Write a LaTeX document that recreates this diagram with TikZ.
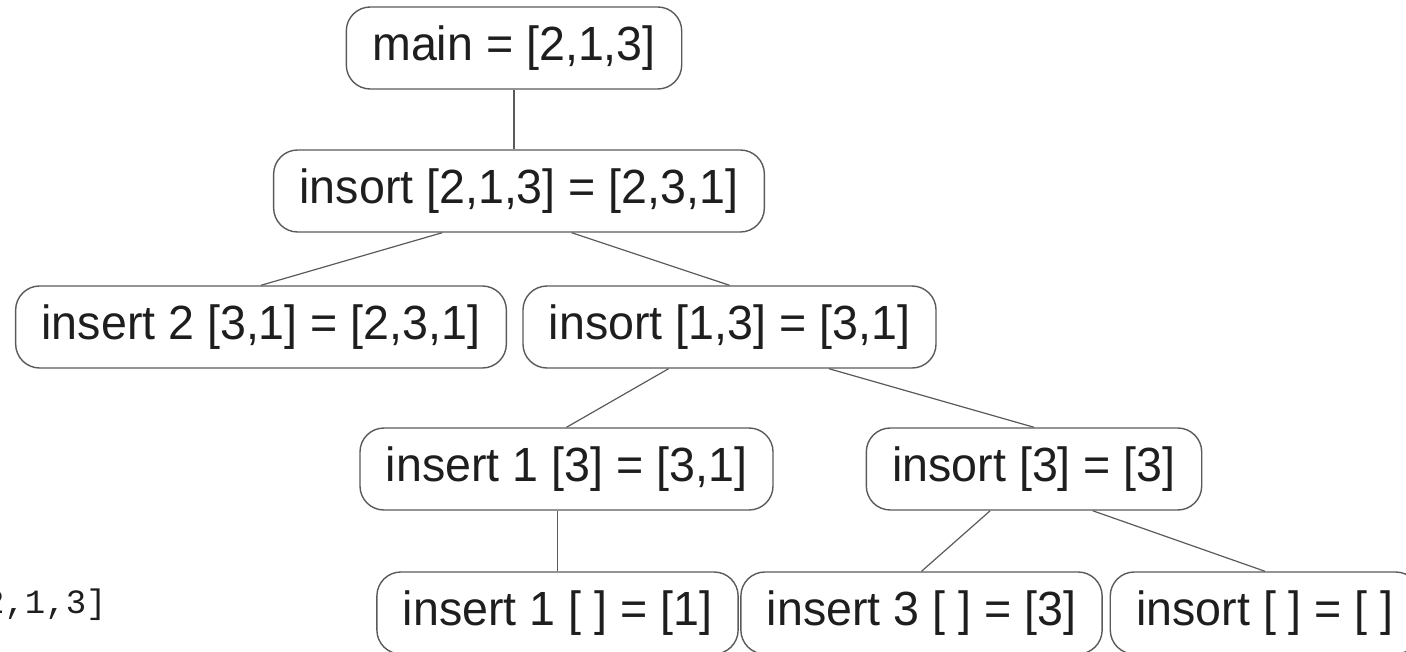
\documentclass[tikz,border=0pt]{standalone}
\usepackage{fontspec}
\setmainfont{Liberation Sans}[FakeStretch=0.97]
\setmonofont{Liberation Mono}
\usepackage{tikz}
\usetikzlibrary{calc, positioning}
\definecolor{boxline}{HTML}{5A5A5A}
\definecolor{txt}{HTML}{1E1E1E}

\begin{document}
\begin{tikzpicture}[x=0.5pt,y=-0.5pt,-,
                    call node/.style={rectangle,rounded corners=12pt,draw=boxline,line width=0.7pt,
                    text=txt,inner xsep=13pt,minimum height=41pt,font=\fontsize{24}{28}\selectfont}]

  \useasboundingbox (0,0) rectangle (1406,652);

  \node[call node] (main) at (514,48) {main = [2,1,3]};
  \node[call node] (ins213) at (519,191) {insort [2,1,3] = [2,3,1]};
  \node[call node] (ins2) at (261,327) {insert 2 [3,1] = [2,3,1]};
  \node[call node] (ins13) at (729.5,327) {insort [1,3] = [3,1]};
  \node[call node] (ins1x3) at (566.5,469) {insert 1 [3] = [3,1]};
  \node[call node] (ins3) at (1034,469) {insort [3] = [3]};
  \node[call node] (ins1e) at (557.5,613) {insert 1 [ ] = [1]};
  \node[call node] (ins3e) at (921.5,613) {insert 3 [ ] = [3]};
  \node[call node] (inse) at (1265,613) {insort [ ] = [ ]};

  \node[anchor=base east,inner sep=0pt,text=txt,font=\ttfamily\fontsize{17}{20}\selectfont] (out) at (107,613) {[2,1,3]};

  \path[draw=boxline,line width=0.6pt]
    (main.south) edge (main.south |- ins213.north)
    ($(ins213.south west)!0.344!(ins213.south east)$) edge (ins2.north)
    ($(ins213.south west)!0.607!(ins213.south east)$) edge (ins13.north)
    ($(ins13.south west)!0.353!(ins13.south east)$) edge (ins1x3.north)
    ($(ins13.south west)!0.74!(ins13.south east)$) edge (ins3.north)
    (ins1x3.south -| ins1e.north) edge (ins1e.north)
    ($(ins3.south west)!0.37!(ins3.south east)$) edge (ins3e.north)
    ($(ins3.south west)!0.674!(ins3.south east)$) edge (inse.north);
\end{tikzpicture}
\end{document}
